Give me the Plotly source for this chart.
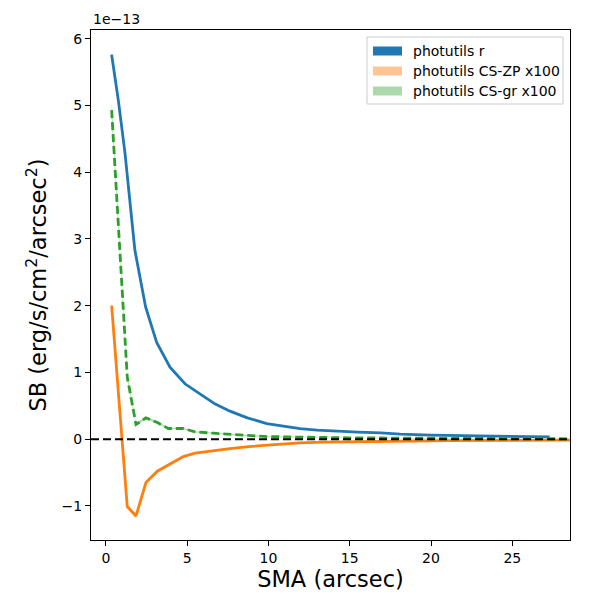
import plotly.graph_objects as go

# surface brightness profiles, values in units of 1e-13 erg/s/cm2/arcsec2
sma_r = [0.35, 0.76, 1.17, 1.78, 2.44, 3.12, 3.94, 4.86, 5.78, 6.7, 7.63, 8.7,
         9.89, 11.0, 11.94, 13.0, 14.0, 15.5, 16.9, 18.1, 20.0, 22.0, 24.0, 26.0, 27.3]
sb_r = [5.76, 5.08, 4.29, 2.83, 1.98, 1.45, 1.08, 0.83, 0.68, 0.53, 0.42, 0.32,
        0.235, 0.19, 0.16, 0.135, 0.12, 0.105, 0.094, 0.075, 0.06, 0.05, 0.043, 0.038, 0.035]
err_r = [0.03, 0.02, 0.02, 0.015, 0.01, 0.01, 0.008, 0.006, 0.005, 0.004, 0.004, 0.003,
         0.003, 0.003, 0.002, 0.002, 0.002, 0.002, 0.002, 0.002, 0.002, 0.002, 0.002, 0.002, 0.002]

sma_cs = [0.35, 1.31, 1.85, 2.46, 3.16, 3.84, 4.76, 5.48, 6.6, 7.63, 8.8, 9.9,
          11.0, 11.9, 13.4, 15.0, 16.9, 19.0, 21.0, 23.5, 26.0, 28.6]
sb_zp = [2.0, -1.01, -1.15, -0.65, -0.48, -0.39, -0.26, -0.21, -0.17, -0.14, -0.11, -0.09,
         -0.07, -0.055, -0.045, -0.037, -0.032, -0.027, -0.022, -0.018, -0.015, -0.013]
err_zp = [0.06, 0.03, 0.03, 0.02, 0.015, 0.012, 0.01, 0.008, 0.007, 0.006, 0.005, 0.005,
          0.004, 0.004, 0.004, 0.003, 0.003, 0.003, 0.003, 0.003, 0.003, 0.003]
sb_gr = [4.93, 0.93, 0.22, 0.32, 0.25, 0.16, 0.16, 0.11, 0.09, 0.075, 0.05, 0.04,
         0.035, 0.03, 0.025, 0.02, 0.018, 0.015, 0.012, 0.01, 0.008, 0.006]
err_gr = [0.12, 0.04, 0.02, 0.02, 0.015, 0.012, 0.01, 0.008, 0.007, 0.006, 0.005, 0.005,
          0.004, 0.004, 0.004, 0.003, 0.003, 0.003, 0.003, 0.003, 0.003, 0.003]

x_ticks = [0, 5, 10, 15, 20, 25]
y_ticks = [-1, 0, 1, 2, 3, 4, 5, 6]
y_labels = ["\u22121", "0", "1", "2", "3", "4", "5", "6"]

legend_names = ["photutils r", "photutils CS-ZP x100", "photutils CS-gr x100"]
legend_colors = ["rgba(31,119,180,1)", "rgba(255,127,14,0.45)", "rgba(44,160,44,0.4)"]

FONT = "DejaVu Sans, Arial, sans-serif"
# page body has an 8px margin, so the figure is 592px and offset by 8
OFF = 8
W = H = 592
L, R, T, B = 83, 30, 22, 60
PW, PH = W - L - R, H - T - B


def px_x(p):
    return (p - OFF - L) / PW


def px_y(p):
    return (H - B - (p - OFF)) / PH


fig = go.Figure()


def add_profile(x, y, err, line_col, fill_col, dash):
    lo = [v - e for v, e in zip(y, err)]
    hi = [v + e for v, e in zip(y, err)]
    fig.add_trace(go.Scatter(
        x=list(x) + list(x)[::-1], y=hi + lo[::-1],
        fill="toself", fillcolor=fill_col, mode="lines",
        line=dict(width=0, color=fill_col), showlegend=False, hoverinfo="skip"))
    fig.add_trace(go.Scatter(
        x=x, y=y, mode="lines", showlegend=False,
        line=dict(color=line_col, width=2.8, dash=dash)))


add_profile(sma_r, sb_r, err_r, "#1f77b4", legend_colors[0], "solid")
add_profile(sma_cs, sb_zp, err_zp, "#ff7f0e", legend_colors[1], "solid")
add_profile(sma_cs, sb_gr, err_gr, "#2ca02c", legend_colors[2], "8px,4px")

# zero line
fig.add_hline(y=0, line=dict(color="black", width=2, dash="8px,4px"))

# legend box drawn like matplotlib's (patch handles)
fig.add_shape(type="rect", xref="paper", yref="paper",
              x0=px_x(367), x1=px_x(563), y0=px_y(104), y1=px_y(37),
              line=dict(color="#cccccc", width=1), fillcolor="rgba(255,255,255,0.8)", layer="above")
for i, (name, col) in enumerate(zip(legend_names, legend_colors)):
    cy = 51 + i * 20
    fig.add_shape(type="rect", xref="paper", yref="paper",
                  x0=px_x(373), x1=px_x(402), y0=px_y(cy + 4.5), y1=px_y(cy - 4.5),
                  line=dict(width=0), fillcolor=col, layer="above")
    fig.add_annotation(text=name, xref="paper", yref="paper", x=px_x(411), y=px_y(cy),
                       xanchor="left", yanchor="middle", showarrow=False,
                       font=dict(size=14, family=FONT, color="black"))

fig.add_annotation(text="1e\u221213", xref="paper", yref="paper", x=0, y=1,
                   xanchor="left", yanchor="bottom", showarrow=False,
                   font=dict(size=14, family=FONT, color="black"), yshift=1)

fig.update_layout(
    width=W, height=H,
    margin=dict(l=L, r=R, t=T, b=B),
    plot_bgcolor="white", paper_bgcolor="white",
    font=dict(family=FONT, color="black", size=14),
    showlegend=False,
    xaxis=dict(range=[-0.92, 28.55], tickvals=x_ticks, ticks="outside", ticklen=5,
               tickcolor="black", showgrid=False, zeroline=False, showline=True,
               linecolor="black", linewidth=1.2, mirror=True, automargin=False,
               title=dict(text="SMA (arcsec)", font=dict(size=22.5, family=FONT), standoff=5)),
    yaxis=dict(range=[-1.51, 6.13], tickvals=y_ticks, ticktext=y_labels, ticks="outside",
               ticklen=5, tickcolor="black", showgrid=False, zeroline=False, showline=True,
               linecolor="black", linewidth=1.2, mirror=True, automargin=False,
               title=dict(text="SB (erg/s/cm<sup>2</sup>/arcsec<sup>2</sup>)",
                          font=dict(size=22.5, family=FONT), standoff=8)),
)

fig.write_html("out.html")
